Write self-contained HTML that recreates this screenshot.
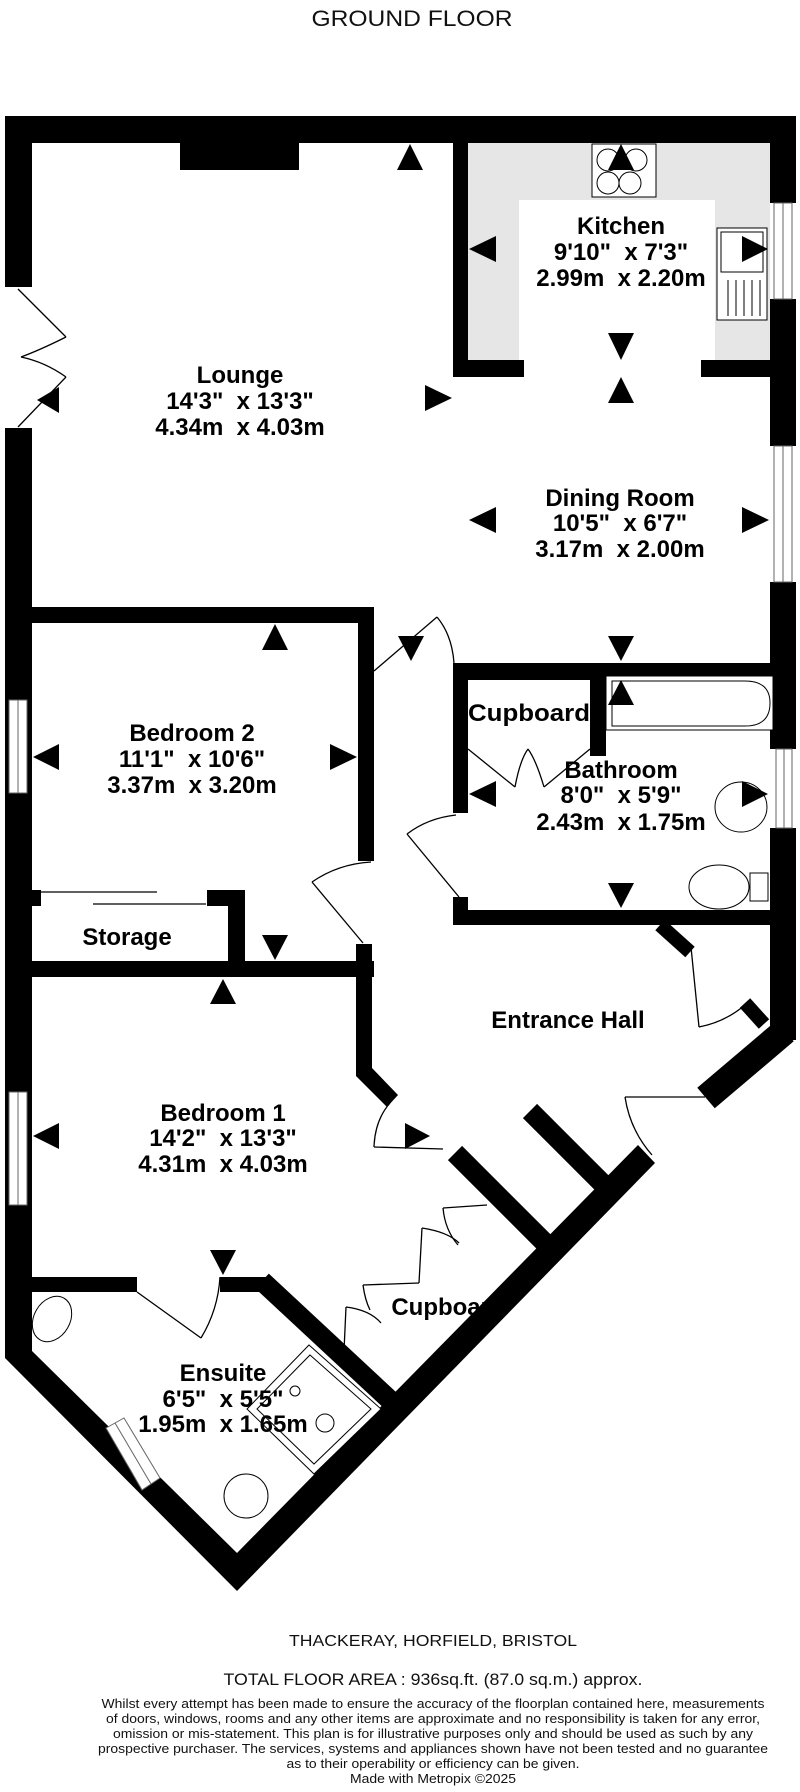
<!DOCTYPE html>
<html><head><meta charset="utf-8"><style>
html,body{margin:0;padding:0;background:#fff}
svg{display:block}
.l{font-family:"Liberation Sans",sans-serif;font-weight:bold;font-size:24px;text-anchor:middle;fill:#000;white-space:pre}
.f{font-family:"Liberation Sans",sans-serif;text-anchor:middle;fill:#111}
</style></head><body>
<svg width="800" height="1792" viewBox="0 0 800 1792" xmlns="http://www.w3.org/2000/svg" xml:space="preserve">
<text class="f" x="412" y="26" font-size="22" textLength="201" lengthAdjust="spacingAndGlyphs">GROUND FLOOR</text>

<rect x="468" y="143" width="302" height="217" fill="#e6e6e6"/>
<rect x="519" y="200" width="196" height="160" fill="#fff"/>

<g fill="#000">
<rect x="5" y="116" width="791" height="27"/>
<rect x="5" y="116" width="27" height="171"/>
<rect x="5" y="428" width="27" height="930"/>
<rect x="770" y="116" width="26" height="87"/>
<rect x="770" y="299" width="26" height="147"/>
<rect x="770" y="582" width="26" height="167"/>
<rect x="770" y="828" width="26" height="212"/>
<rect x="180" y="143" width="119" height="27"/>
<rect x="453" y="143" width="15" height="234"/>
<rect x="453" y="360" width="71" height="17"/>
<rect x="701" y="360" width="69" height="17"/>
<rect x="32" y="607" width="342" height="16"/>
<rect x="358" y="607" width="16" height="254"/>
<rect x="453" y="663" width="317" height="17"/>
<rect x="453" y="663" width="15" height="150"/>
<rect x="453" y="897" width="15" height="28"/>
<rect x="453" y="910" width="317" height="15"/>
<rect x="590" y="680" width="16" height="76"/>
<rect x="32" y="890" width="9" height="16"/>
<rect x="207" y="890" width="38" height="16"/>
<rect x="228" y="890" width="17" height="87"/>
<rect x="32" y="961" width="342" height="16"/>
<polygon points="356,944 372,944 372,1068 398,1095 387,1107 356,1076"/>
<polygon points="5,1340 32,1340 32,1351 237,1553 638,1145 655,1163 237,1591 5,1358"/>
<rect x="32" y="1277" width="105" height="15"/>
<rect x="220" y="1277" width="48" height="15"/>
</g>
<g stroke="#000" fill="none">
<line x1="455" y1="1153" x2="548" y2="1246" stroke-width="20"/>
<line x1="530" y1="1111" x2="606" y2="1187" stroke-width="20"/>
<line x1="785" y1="1031" x2="706" y2="1098" stroke-width="27"/>
<line x1="745" y1="1003" x2="764" y2="1024" stroke-width="14"/>
<line x1="660" y1="925" x2="690" y2="952" stroke-width="14"/>
<line x1="262" y1="1281" x2="392" y2="1402" stroke-width="20"/>
</g>

<g fill="#fff" stroke="#666" stroke-width="1">
<rect x="774" y="203" width="18" height="96"/>
<rect x="774" y="446" width="18" height="136"/>
<rect x="776" y="749" width="16" height="79"/>
<rect x="9" y="700" width="18" height="93"/>
<rect x="9" y="1092" width="18" height="113"/>
</g>
<g stroke="#666" stroke-width="1">
<line x1="783" y1="203" x2="783" y2="299"/><line x1="783" y1="446" x2="783" y2="582"/>
<line x1="784" y1="749" x2="784" y2="828"/><line x1="18" y1="700" x2="18" y2="793"/>
<line x1="18" y1="1092" x2="18" y2="1205"/>
</g>
<polygon points="106,1428 124,1418 160,1478 142,1490" fill="#fff" stroke="#666"/>
<line x1="115" y1="1423" x2="151" y2="1484" stroke="#666"/>

<g stroke="#000" stroke-width="1.3" fill="none">
<line x1="18" y1="289" x2="66" y2="337"/><path d="M66 337 Q40 350 21 357"/>
<path d="M21 357 Q45 362 66 377"/><line x1="66" y1="377" x2="18" y2="427"/>
<line x1="374" y1="671" x2="437" y2="617"/><path d="M437 617 Q452 635 454 663"/>
<line x1="468" y1="749" x2="515" y2="787"/><path d="M515 787 Q520 760 528 749"/>
<line x1="590" y1="749" x2="544" y2="787"/><path d="M544 787 Q536 760 528 749"/>
<line x1="407" y1="834" x2="459" y2="897"/><path d="M407 834 Q428 818 456 815"/>
<line x1="312" y1="882" x2="363" y2="943"/><path d="M312 882 Q338 864 371 862"/>
<line x1="41" y1="892" x2="157" y2="892"/><line x1="93" y1="904" x2="206" y2="904"/>
<path d="M390 1103 Q375 1120 374 1147"/><line x1="374" y1="1147" x2="443" y2="1149"/>
<line x1="487" y1="1205" x2="443" y2="1208"/><path d="M443 1208 Q445 1230 458 1245"/>
<line x1="422" y1="1228" x2="419" y2="1283"/><path d="M422 1228 Q448 1232 459 1243"/>
<line x1="419" y1="1283" x2="363" y2="1285"/><path d="M363 1285 Q365 1300 370 1310"/>
<line x1="346" y1="1307" x2="344" y2="1351"/><path d="M346 1307 Q370 1310 381 1323"/>
<line x1="625" y1="1097" x2="705" y2="1097"/><path d="M625 1097 Q630 1130 652 1155"/>
<line x1="691" y1="947" x2="699" y2="1027"/><path d="M699 1027 Q725 1022 745 1005"/>
<line x1="137" y1="1292" x2="201" y2="1338"/><path d="M201 1338 Q218 1310 220 1277"/>
</g>

<g stroke="#000" stroke-width="1" fill="#fff">
<rect x="592" y="144" width="64" height="53"/>
<circle cx="608" cy="160" r="11"/><circle cx="636" cy="160" r="11"/>
<circle cx="608" cy="183" r="11"/><circle cx="630" cy="183" r="11"/>
<rect x="717" y="228" width="50" height="92"/><rect x="721" y="232" width="42" height="40"/>
<rect x="606" y="676" width="167" height="54"/>
<path d="M612 681 H745 Q770 681 770 703 Q770 726 745 726 H612 Z"/>
<ellipse cx="741" cy="807" rx="26" ry="25"/>
<ellipse cx="719" cy="887" rx="30" ry="22"/><rect x="750" y="873" width="18" height="28"/>
<polygon points="309,1345 381,1409 314,1474 247,1409"/>
<polygon points="310,1355 371,1409 314,1464 257,1409"/>
<circle cx="295" cy="1391" r="5"/><circle cx="325" cy="1423" r="9"/>
<circle cx="246" cy="1496" r="22"/>
<ellipse cx="52" cy="1319" rx="18" ry="24" transform="rotate(30 52 1319)"/>
</g>
<g stroke="#000" stroke-width="1">
<line x1="728" y1="280" x2="728" y2="316"/><line x1="736" y1="280" x2="736" y2="316"/>
<line x1="744" y1="280" x2="744" y2="316"/><line x1="752" y1="280" x2="752" y2="316"/>
<line x1="760" y1="280" x2="760" y2="316"/>
</g>

<g fill="#000">
<polygon points="397,170 423,170 410,144"/><polygon points="608,170 634,170 621,144"/>
<polygon points="608,403 634,403 621,377"/><polygon points="262,650 288,650 275,624"/>
<polygon points="608,705 634,705 621,680"/><polygon points="210,1004 236,1004 223,979"/>
<polygon points="608,333 634,333 621,360"/><polygon points="398,636 424,636 411,661"/>
<polygon points="608,636 634,636 621,661"/><polygon points="608,883 634,883 621,908"/>
<polygon points="262,935 288,935 275,960"/><polygon points="210,1250 236,1250 223,1275"/>
<polygon points="496,236 496,262 469,249"/><polygon points="496,507 496,533 469,520"/>
<polygon points="59,744 59,770 33,757"/><polygon points="496,781 496,807 469,794"/>
<polygon points="59,1123 59,1149 33,1136"/><polygon points="59,387 59,413 37,400"/>
<polygon points="742,236 742,262 768,249"/><polygon points="425,385 425,411 452,398"/>
<polygon points="742,507 742,533 769,520"/><polygon points="330,744 330,770 357,757"/>
<polygon points="742,781 742,807 768,794"/><polygon points="405,1123 405,1149 430,1136"/>
</g>

<text class="l" x="621" y="234">Kitchen</text>
<text class="l" x="621" y="260">9'10"  x 7'3"</text>
<text class="l" x="621" y="286">2.99m  x 2.20m</text>
<text class="l" x="240" y="383">Lounge</text>
<text class="l" x="240" y="409">14'3"  x 13'3"</text>
<text class="l" x="240" y="435">4.34m  x 4.03m</text>
<text class="l" x="620" y="506">Dining Room</text>
<text class="l" x="620" y="531">10'5"  x 6'7"</text>
<text class="l" x="620" y="557">3.17m  x 2.00m</text>
<text class="l" x="192" y="741">Bedroom 2</text>
<text class="l" x="192" y="767">11'1"  x 10'6"</text>
<text class="l" x="192" y="793">3.37m  x 3.20m</text>
<text class="l" x="529" y="721" font-size="22" textLength="122" lengthAdjust="spacingAndGlyphs">Cupboard</text>
<text class="l" x="621" y="778">Bathroom</text>
<text class="l" x="621" y="803">8'0"  x 5'9"</text>
<text class="l" x="621" y="830">2.43m  x 1.75m</text>
<text class="l" x="127" y="945" font-size="22">Storage</text>
<text class="l" x="568" y="1028" font-size="23">Entrance Hall</text>
<text class="l" x="223" y="1121">Bedroom 1</text>
<text class="l" x="223" y="1146">14'2"  x 13'3"</text>
<text class="l" x="223" y="1172">4.31m  x 4.03m</text>
<text class="l" x="448" y="1315" font-size="15">Cupboard</text>
<text class="l" x="223" y="1381">Ensuite</text>
<text class="l" x="223" y="1407">6'5"  x 5'5"</text>
<text class="l" x="223" y="1432">1.95m  x 1.65m</text>

<text class="f" x="433" y="1646" font-size="16" textLength="288" lengthAdjust="spacingAndGlyphs">THACKERAY, HORFIELD, BRISTOL</text>
<text class="f" x="433" y="1685" font-size="17" textLength="419" lengthAdjust="spacingAndGlyphs">TOTAL FLOOR AREA : 936sq.ft. (87.0 sq.m.) approx.</text>
<text class="f" x="433" y="1708" font-size="13" textLength="663" lengthAdjust="spacingAndGlyphs">Whilst every attempt has been made to ensure the accuracy of the floorplan contained here, measurements</text>
<text class="f" x="433" y="1723" font-size="13" textLength="654" lengthAdjust="spacingAndGlyphs">of doors, windows, rooms and any other items are approximate and no responsibility is taken for any error,</text>
<text class="f" x="433" y="1738" font-size="13" textLength="640" lengthAdjust="spacingAndGlyphs">omission or mis-statement. This plan is for illustrative purposes only and should be used as such by any</text>
<text class="f" x="433" y="1753" font-size="13" textLength="670" lengthAdjust="spacingAndGlyphs">prospective purchaser. The services, systems and appliances shown have not been tested and no guarantee</text>
<text class="f" x="433" y="1768" font-size="13" textLength="293" lengthAdjust="spacingAndGlyphs">as to their operability or efficiency can be given.</text>
<text class="f" x="433" y="1783" font-size="13" textLength="166" lengthAdjust="spacingAndGlyphs">Made with Metropix ©2025</text>
</svg>
</body></html>
